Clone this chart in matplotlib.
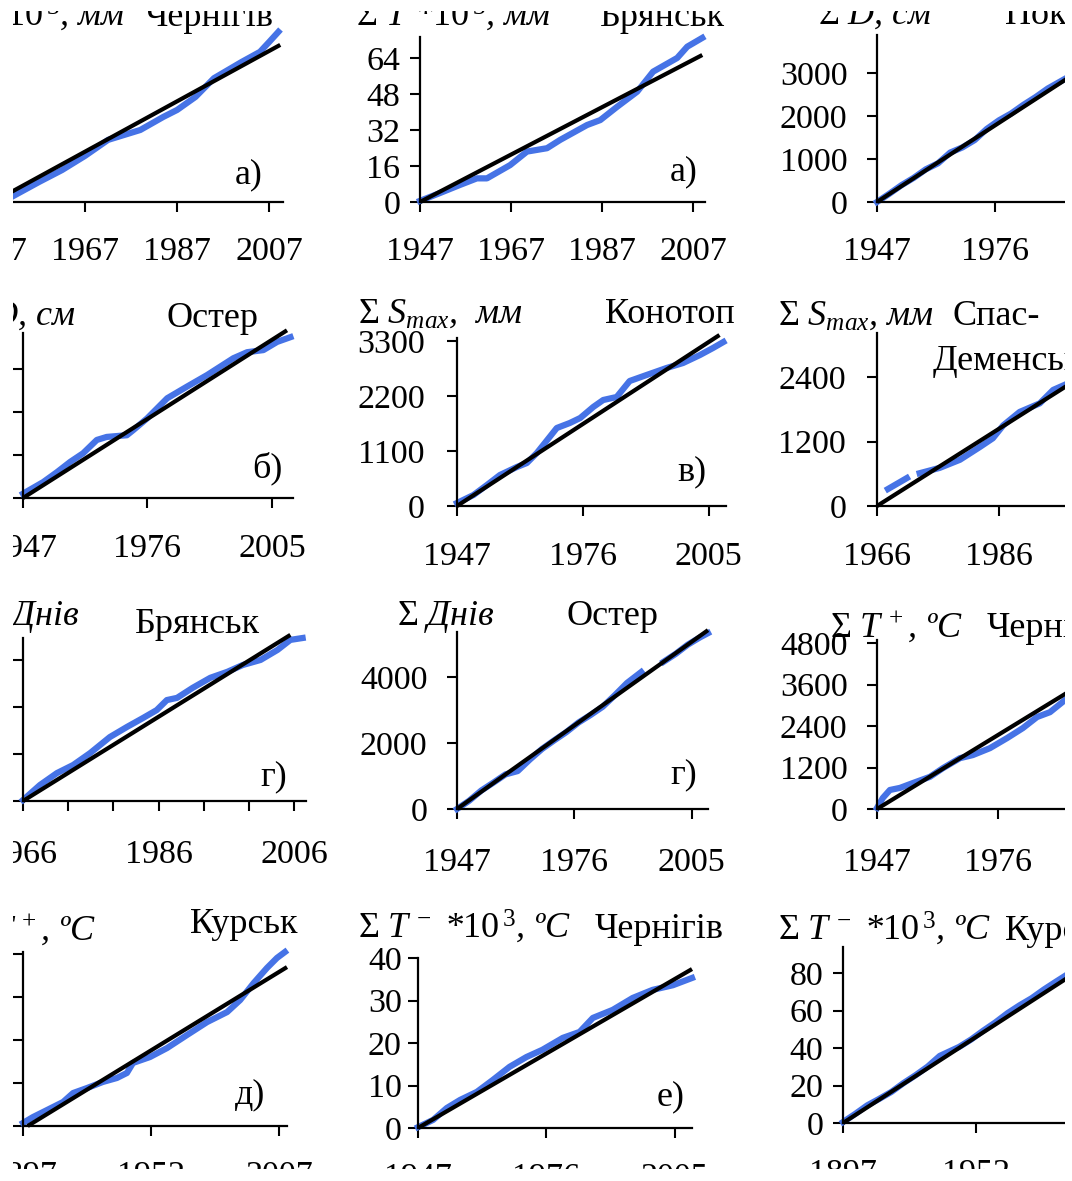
import numpy as np
import matplotlib
matplotlib.use("Agg")
import matplotlib.pyplot as plt
from matplotlib.patches import Rectangle

W, H = 1072, 1181
plt.rcParams.update({
    "font.family": ["Liberation Serif", "DejaVu Serif"],
    "mathtext.fontset": "custom",
    "mathtext.rm": "Liberation Serif",
    "mathtext.it": "Liberation Serif:italic",
    "mathtext.bf": "Liberation Serif:bold",
})

nan = np.nan

# ---------------- data: cumulative sums (blue) and linear trends (black)
# а) Чернігів
chern_a_years = [1947, 1949, 1951, 1957, 1962, 1967, 1972, 1979, 1984, 1987, 1991, 1995, 2001, 2005, 2007, 2009]
chern_a_vals = [0, 1.0, 2.2, 8.9, 14.2, 20.5, 27.6, 32.0, 37.8, 40.9, 46.7, 55.0, 62.2, 66.7, 71.1, 75.6]
chern_a_trend = ([1947, 2009.4], [0, 69.8])

# а) Брянськ
bryansk_a_years = [1947, 1951.4, 1955.8, 1959.5, 1961.7, 1966.8, 1970.5, 1974.9, 1977.8, 1983.7, 1986.6,
                   1990.3, 1994.7, 1998.2, 2003.5, 2005.7, 2009]
bryansk_a_vals = [0.5, 4.0, 7.6, 10.5, 10.5, 16.4, 22.4, 23.9, 27.6, 34.2, 36.4, 42.3, 49.0, 57.9, 64.0, 69.0, 72.9]
bryansk_a_trend = ([1947, 2009], [0, 65.3])

# ΣD Пок...
pok_years = [1947, 1950, 1953, 1956, 1959, 1962, 1965, 1968, 1971, 1974, 1977, 1980, 1983, 1986, 1989, 1992, 1995]
pok_vals = [0, 190, 390, 560, 760, 900, 1150, 1270, 1440, 1700, 1900, 2060, 2260, 2440, 2640, 2800, 2960]
pok_trend = ([1947, 2009], [0, 3807])

# б) Остер, ΣD
oster_d_years = [1947, 1951.7, 1954.9, 1958, 1961, 1964.2, 1966.5, 1971.2, 1972.7, 1975.9, 1980.6, 1985.2,
                 1989.9, 1996, 1999.2, 2003, 2006.2, 2009.3]
oster_d_vals = [100, 370, 600, 840, 1040, 1350, 1420, 1460, 1580, 1850, 2320, 2590, 2860, 3250, 3390, 3440,
                3630, 3740]
oster_d_trend = ([1947, 2008.5], [0, 3900])

# в) Конотоп, ΣSmax
konotop_years = [1947, 1950.8, 1953.9, 1956.9, 1960.8, 1963.1, 1965.4, 1967.8, 1970, 1973, 1975.4, 1978.4,
                 1980.7, 1983.8, 1986.8, 1990.7, 1995.3, 1999.1, 2003, 2006, 2008.4]
konotop_vals = [60, 220, 420, 620, 780, 860, 1060, 1320, 1560, 1660, 1760, 1980, 2120, 2180, 2500, 2620, 2760,
                2860, 3020, 3160, 3280]
konotop_trend = ([1947, 2007.5], [0, 3420])

# Спас-Деменськ, ΣSmax
spas_years = [1967.8, 1970.9, nan, 1973, 1976.3, 1979.6, 1982.9, 1985, 1986.7, 1989.4, 1992.7, 1994.9, 1997.3]
spas_vals = [316, 520, nan, 610, 710, 860, 1100, 1260, 1500, 1750, 1910, 2160, 2280]
spas_trend = ([1966, 2008], [0, 3016])

# г) Брянськ, Σ днів
bryansk_g_years = [1966, 1968.5, 1971, 1973.4, 1975.9, 1978.8, 1981.3, 1983.7, 1985.7, 1987.2, 1988.7, 1991,
                   1993.6, 1996.1, 1998.4, 2001, 2003.5, 2005.4, 2007.2]
bryansk_g_vals = [30, 510, 890, 1150, 1530, 2040, 2360, 2650, 2900, 3220, 3290, 3610, 3930, 4120, 4340, 4500,
                  4820, 5140, 5200]
bryansk_g_trend = ([1966, 2005.4], [0, 5300])

# г) Остер, Σ днів
oster_g_years = [1947, 1950, 1953, 1956, 1959, 1962, 1965, 1968, 1971, 1974, 1977, 1980, 1983, 1986, 1989,
                 1992.5, nan, 1998, 2001, 2004, 2007, 2009]
oster_g_vals = [0, 250, 560, 800, 1050, 1150, 1500, 1820, 2080, 2330, 2620, 2850, 3100, 3450, 3820, 4150, nan,
                4460, 4700, 4980, 5200, 5330]
oster_g_trend = ([1947, 2009], [0, 5420])

# ΣT+ Чернігів
chern_tp_years = [1947, 1948.4, 1950.1, 1952.5, 1955.6, 1959.7, 1962.8, 1966.9, 1970, 1974.1, 1978.2, 1982,
                  1985.4, 1988.5, 1992.1, 1994]
chern_tp_vals = [30, 320, 550, 610, 750, 930, 1180, 1470, 1560, 1760, 2050, 2340, 2660, 2800, 3150, 3280]
chern_tp_trend = ([1947, 2009], [0, 4570])

# д) Курськ, ΣT+
kursk_tp_years = [1897, 1901.3, 1907.3, 1914.2, 1918.5, 1924.5, 1931.3, 1937.3, 1941.6, 1944.2, 1951.5, 1958.8,
                  1967.4, 1976, 1984.6, 1990.2, 1996, 2001.7, 2006, 2009.4]
kursk_tp_vals = [170, 500, 890, 1340, 1840, 2120, 2460, 2680, 2960, 3520, 3850, 4350, 5080, 5800, 6360, 7030,
                 7980, 8820, 9380, 9710]
kursk_tp_trend = ([1899, 2010.3], [0, 8870])

# е) Чернігів, ΣT- ×10³
chern_tm_years = [1947, 1950.4, 1953.5, 1956.5, 1960.3, 1963.9, 1967.7, 1971.5, 1975.1, 1979.7, 1983.5, 1986.5,
                  1991, 1995.5, 2000, 2004.6, 2008.9]
chern_tm_vals = [0.2, 1.9, 4.7, 6.6, 8.5, 11.3, 14.4, 16.7, 18.4, 21.2, 22.6, 25.9, 27.8, 30.6, 32.5, 33.6, 35.3]
chern_tm_trend = ([1947, 2008.9], [0, 37.4])

# Курськ, ΣT- ×10³
kursk_tm_years = [1897, 1902, 1907, 1912, 1917, 1922, 1927, 1932, 1937, 1940, 1945, 1950, 1955, 1960, 1965,
                  1970, 1975, 1980, 1985, 1990, 1994]
kursk_tm_vals = [0.5, 4.8, 9.4, 12.9, 16.6, 21.3, 25.5, 30.1, 35.8, 37.6, 40.6, 44.6, 49.3, 53.7, 58.6, 62.8,
                 66.6, 71.2, 75.4, 79.5, 82.4]
kursk_tm_trend = ([1897, 2009], [0, 93.5])

# tick values
ticks_4767 = [1947, 1967, 1987, 2007]
ticks_4705 = [1947, 1976, 2005]
ticks_6606 = [1966, 1986, 2006]
ticks_9707 = [1897, 1952, 2007]
minor_6606 = [1966 + k * 20 / 3 for k in range(7)]

# ---------------- figure
fig = plt.figure(figsize=(W / 100, H / 100), dpi=100)
BLUE = "#4673e6"
TICK_FS = 24.5
TEXT_FS = 26


def panel(box, xlim, ylim, xticks, yticks, series, trend, xpad, ypad, minor=None):
    l, r, b, t = box
    ax = fig.add_axes([l / W, 1 - b / H, (r - l) / W, (b - t) / H])
    ax.set_xlim(*xlim)
    ax.set_ylim(*ylim)
    ax.plot(series[0], series[1], color=BLUE, lw=4.5, clip_on=False, zorder=2)
    ax.plot(trend[0], trend[1], color="black", lw=3.0, clip_on=False, zorder=3,
            solid_capstyle="butt")
    for s in ("top", "right"):
        ax.spines[s].set_visible(False)
    for s in ("left", "bottom"):
        ax.spines[s].set_linewidth(1.6)
    ax.set_xticks(xticks)
    ax.set_xticklabels([str(v) for v in xticks])
    if minor is not None:
        ax.set_xticks(minor, minor=True)
    ax.set_yticks(yticks)
    ax.set_yticklabels([str(v) for v in yticks])
    ax.tick_params(which="both", direction="out", length=7.2, width=1.5, labelsize=TICK_FS)
    ax.tick_params(axis="x", pad=xpad)
    ax.tick_params(axis="y", pad=ypad)
    ax.patch.set_alpha(0)
    return ax


def put(x, y, s, style="normal", size=TEXT_FS):
    fig.text(x / W, 1 - y / H, s, fontsize=size, style=style, ha="left", va="baseline")


# row 1
panel((-7, 283, 202, 37), (1947, 2010), (0, 73.3), ticks_4767, [0, 16, 32, 48, 64],
      (chern_a_years, chern_a_vals), chern_a_trend, 17.5, 7)
panel((420, 705, 202, 37), (1947, 2009.6), (0, 73.3), ticks_4767, [0, 16, 32, 48, 64],
      (bryansk_a_years, bryansk_a_vals), bryansk_a_trend, 17.5, 7)
panel((877, 1130, 202, 35), (1947, 2009.2), (0, 3884), ticks_4705, [0, 1000, 2000, 3000],
      (pok_years, pok_vals), pok_trend, 17.5, 14)
# row 2
panel((23, 293, 498, 333), (1947, 2009.9), (0, 3837), ticks_4705, [0, 1000, 2000, 3000],
      (oster_d_years, oster_d_vals), oster_d_trend, 18.2, 14)
panel((457, 726, 506, 338), (1947, 2009), (0, 3360), ticks_4705, [0, 1100, 2200, 3300],
      (konotop_years, konotop_vals), konotop_trend, 18.2, 16)
panel((877, 1130, 506, 333), (1966, 2007.5), (0, 3219), ticks_6606, [0, 1200, 2400],
      (spas_years, spas_vals), spas_trend, 18.2, 15)
# row 3
panel((23, 306, 801, 638), (1966, 2007.7), (0, 5200), ticks_6606, [0, 1500, 3000, 4500],
      (bryansk_g_years, bryansk_g_vals), bryansk_g_trend, 20.4, 14, minor=minor_6606)
panel((457, 708, 809, 632), (1947, 2009), (0, 5364), ticks_4705, [0, 2000, 4000],
      (oster_g_years, oster_g_vals), oster_g_trend, 20.4, 14)
panel((877, 1130, 809, 640), (1947, 2007.7), (0, 4887), ticks_4705, [0, 1200, 2400, 3600, 4800],
      (chern_tp_years, chern_tp_vals), chern_tp_trend, 20.4, 14)
# row 4
panel((23, 287, 1126, 952), (1897, 2010.3), (0, 9711), ticks_9707, [0, 2400, 4800, 7200, 9600],
      (kursk_tp_years, kursk_tp_vals), kursk_tp_trend, 18, 14)
panel((418, 692, 1128, 958), (1947, 2008.9), (0, 40), ticks_4705, [0, 10, 20, 30, 40],
      (chern_tm_years, chern_tm_vals), chern_tm_trend, 17.5, 4.5)
panel((843, 1130, 1123, 947), (1897, 2015.6), (0, 93.9), ticks_9707, [0, 20, 40, 60, 80],
      (kursk_tm_years, kursk_tm_vals), kursk_tm_trend, 18, 7)

# axis captions
put(-70, 26, r"$\Sigma\ T$ *$\mathit{10}^{\,3}$, мм", "italic")
put(356, 26, r"$\Sigma\ T$ *$\mathit{10}^{\,3}$, мм", "italic")
put(818, 24, r"$\Sigma\ D$, см", "italic")
put(-38, 325, r"$\Sigma\ D$, см", "italic")
put(358, 323, r"$\Sigma\ S_{max}$,  мм", "italic")
put(778, 325, r"$\Sigma\ S_{max}$, мм", "italic")
put(-18, 625, r"$\Sigma\ $Днів", "italic")
put(397, 625, r"$\Sigma\ $Днів", "italic")
put(830, 637, r"$\Sigma\ T^{\,+}$, ºC", "italic")
put(-37, 940, r"$\Sigma\ T^{\,+}$, ºC", "italic")
put(358, 938, r"$\Sigma\ T^{\,-}$ *$\mathit{10}^{\,3}$, ºC", "italic")
put(778, 940, r"$\Sigma\ T^{\,-}$ *$\mathit{10}^{\,3}$, ºC", "italic")

# station names
put(145, 26, "Чернігів")
put(600, 26, "Брянськ")
put(1005, 24, "Покровськ")
put(167, 327, "Остер")
put(605, 323, "Конотоп")
put(952, 325, "Спас-")
put(933, 370, "Деменськ")
put(135, 633, "Брянськ")
put(567, 625, "Остер")
put(987, 637, "Чернігів")
put(190, 933, "Курськ")
put(595, 938, "Чернігів")
put(1005, 940, "Курськ")

# panel letters
put(235, 183, "а)")
put(670, 180, "а)")
put(252, 477, "б)")
put(677, 480, "в)")
put(260, 785, "г)")
put(670, 783, "г)")
put(235, 1103, "д)")
put(657, 1105, "е)")

# white page margins around the sheet
for (x0, y0, w, h) in [(0, 0, 13, H), (1065, 0, W - 1065, H), (0, 0, W, 11), (0, 1169, W, H - 1169)]:
    fig.add_artist(Rectangle((x0 / W, 1 - (y0 + h) / H), w / W, h / H, transform=fig.transFigure,
                             facecolor="white", edgecolor="none", zorder=100))

fig.savefig("out.png", dpi=100)
